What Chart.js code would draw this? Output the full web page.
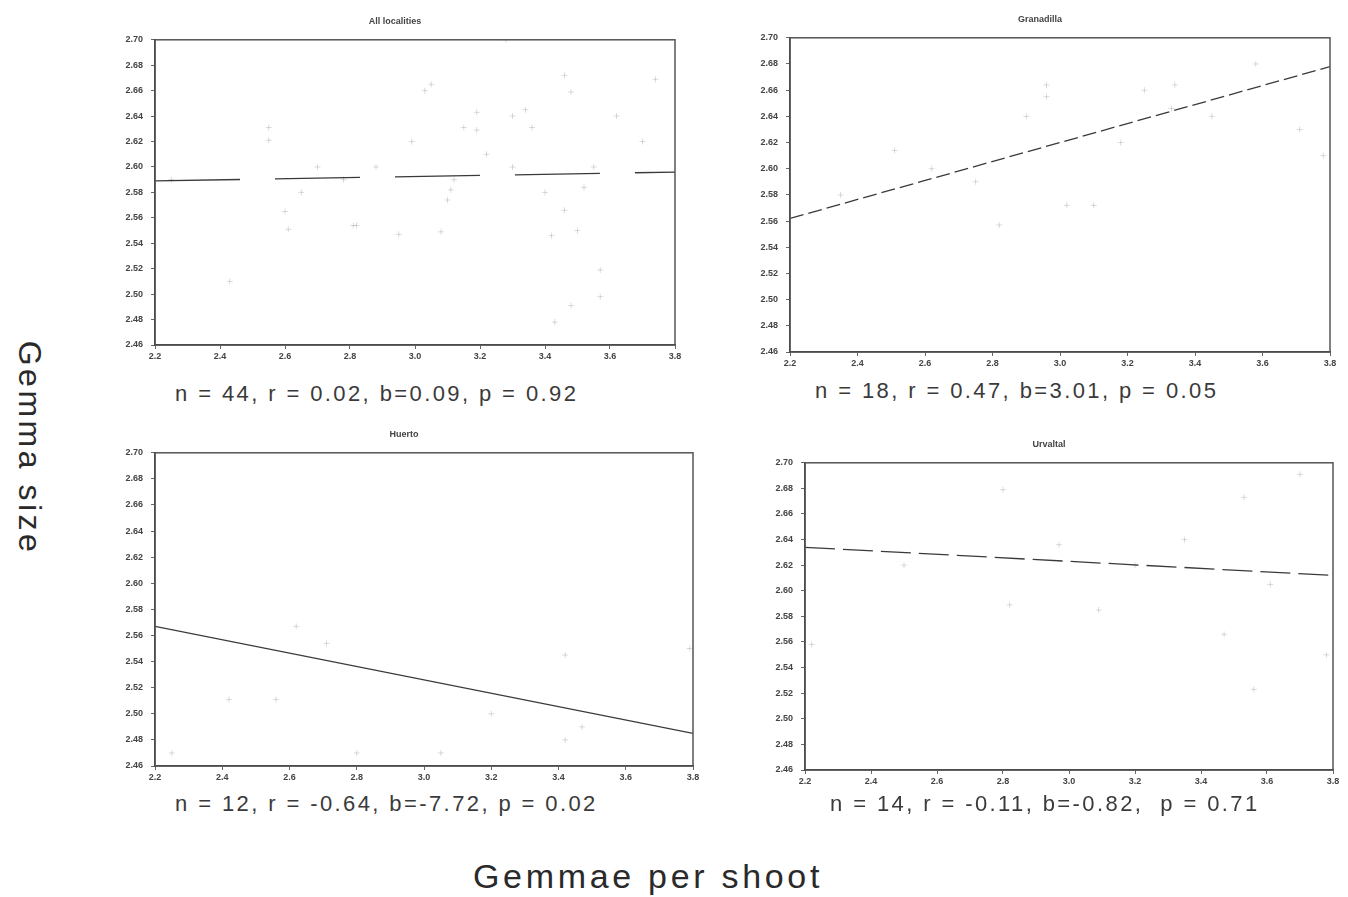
<!DOCTYPE html>
<html>
<head>
<meta charset="utf-8">
<script src="https://cdn.jsdelivr.net/npm/chart.js@4.4.1/dist/chart.umd.min.js"></script>
<style>
  body { margin: 0; background: #fff; width: 1348px; height: 897px; position: relative; overflow: hidden;
         font-family: "Liberation Sans", Arial, sans-serif; }
  canvas { position: absolute; }
  .stat { position: absolute; font-size: 22px; letter-spacing: 2.4px; color: #3a3a3a; white-space: nowrap; line-height: 1; }
  .axis { position: absolute; color: #2a2a2a; white-space: nowrap; line-height: 1; transform: translate(-50%, -50%); }
</style>
</head>
<body>
<canvas id="allChart" width="600" height="362" style="left:100px;top:8px"></canvas>
<canvas id="granChart" width="613" height="370" style="left:735px;top:6px"></canvas>
<canvas id="hueChart" width="620" height="370" style="left:100px;top:421px"></canvas>
<canvas id="urvChart" width="598" height="364" style="left:750px;top:431px"></canvas>

<div class="stat" style="left:175px;top:383px">n = 44, r = 0.02, b=0.09, p = 0.92</div>
<div class="stat" style="left:815px;top:380px">n = 18, r = 0.47, b=3.01, p = 0.05</div>
<div class="stat" style="left:175px;top:793px">n = 12, r = -0.64, b=-7.72, p = 0.02</div>
<div class="stat" style="left:830px;top:793px">n = 14, r = -0.11, b=-0.82,&nbsp; p = 0.71</div>

<div class="axis" style="left:30px;top:448px;font-size:32px;letter-spacing:3.5px;transform:translate(-50%,-50%) rotate(90deg)">Gemma size</div>
<div class="axis" style="left:648px;top:876px;font-size:34px;letter-spacing:3.7px">Gemmae per shoot</div>

<script>
// shared axes
const xRange = [2.2, 3.8];
const yRange = [2.46, 2.70];
const xStep = 0.2;
const yStep = 0.02;

// All localities
const xAll = [2.25, 2.43, 2.55, 2.55, 2.60, 2.61, 2.65, 2.70, 2.78, 2.81, 2.82, 2.88, 2.95, 2.99, 3.03,
  3.05, 3.08, 3.10, 3.11, 3.12, 3.15, 3.19, 3.19, 3.22, 3.28, 3.30, 3.34, 3.36, 3.40, 3.42,
  3.43, 3.46, 3.46, 3.48, 3.48, 3.50, 3.52, 3.55, 3.57, 3.57, 3.62, 3.70, 3.74, 3.30];
const yAll = [2.59, 2.51, 2.631, 2.621, 2.565, 2.551, 2.58, 2.60, 2.59, 2.554, 2.554, 2.60, 2.547, 2.62, 2.66,
  2.665, 2.549, 2.574, 2.582, 2.59, 2.631, 2.643, 2.629, 2.61, 2.70, 2.60, 2.645, 2.631, 2.58, 2.546,
  2.478, 2.672, 2.566, 2.659, 2.491, 2.55, 2.584, 2.60, 2.519, 2.498, 2.64, 2.62, 2.669, 2.64];
const fitAll = [2.589, 2.596];

// Granadilla
const xGran = [2.35, 2.51, 2.62, 2.75, 2.82, 2.90, 2.96, 2.96, 3.02, 3.10, 3.18, 3.25, 3.33, 3.34, 3.45, 3.58, 3.71, 3.78];
const yGran = [2.58, 2.614, 2.60, 2.59, 2.557, 2.64, 2.664, 2.655, 2.572, 2.572, 2.62, 2.66, 2.646, 2.664, 2.64, 2.68, 2.63, 2.61];
const fitGran = [2.562, 2.678];

// Huerto
const xHue = [2.25, 2.42, 2.56, 2.62, 2.71, 2.80, 3.05, 3.20, 3.42, 3.42, 3.47, 3.79];
const yHue = [2.47, 2.511, 2.511, 2.567, 2.554, 2.47, 2.47, 2.50, 2.545, 2.48, 2.49, 2.55];
const fitHue = [2.567, 2.485];

// Urvaltal
const xUrv = [2.22, 2.50, 2.80, 2.82, 2.97, 3.09, 3.20, 3.35, 3.47, 3.53, 3.56, 3.61, 3.70, 3.78];
const yUrv = [2.558, 2.62, 2.679, 2.589, 2.636, 2.585, 2.62, 2.64, 2.566, 2.673, 2.523, 2.605, 2.691, 2.55];
const fitUrv = [2.634, 2.612];

// frame round the plot area
const boxPlugin = {
  id: 'box',
  afterDraw(chart) {
    const a = chart.chartArea, c = chart.ctx;
    c.save();
    c.strokeStyle = '#555';
    c.lineWidth = 1.5;
    c.strokeRect(a.left, a.top, a.right - a.left, a.bottom - a.top);
    c.restore();
  }
};

function makePanel(id, title, xs, ys, fit, dash, pad) {
  const ctx = document.getElementById(id).getContext('2d');
  return new Chart(ctx, {
    type: 'scatter',
    data: {
      datasets: [
        {
          data: xs.map((x, i) => ({ x: x, y: ys[i] })),
          pointStyle: 'cross',
          pointRadius: 3,
          borderColor: 'rgba(0,0,0,0.14)',
          borderWidth: 1
        },
        {
          type: 'line',
          data: [{ x: xRange[0], y: fit[0] }, { x: xRange[1], y: fit[1] }],
          borderColor: '#3a3a3a',
          borderWidth: 1.3,
          borderDash: dash,
          pointRadius: 0,
          fill: false
        }
      ]
    },
    options: {
      responsive: false,
      animation: false,
      devicePixelRatio: 1,
      layout: { padding: pad },
      scales: {
        x: {
          type: 'linear',
          min: xRange[0], max: xRange[1],
          ticks: { stepSize: xStep, color: '#444', font: { size: 9, weight: 'bold', family: 'Liberation Sans' }, padding: 2,
                   maxRotation: 0, callback: v => v.toFixed(1) },
          grid: { drawOnChartArea: false, tickLength: 4, color: '#666' },
          border: { color: '#333', width: 1.5 },
          afterFit: s => { s.height = 20; }
        },
        y: {
          min: yRange[0], max: yRange[1],
          ticks: { stepSize: yStep, color: '#444', font: { size: 9, weight: 'bold', family: 'Liberation Sans' }, padding: 8,
                   callback: v => v.toFixed(2) },
          grid: { drawOnChartArea: false, tickLength: 4, color: '#666' },
          border: { color: '#333', width: 1.5 },
          afterFit: s => { s.width = 40; }
        }
      },
      plugins: {
        legend: { display: false },
        tooltip: { enabled: false },
        title: {
          display: true,
          text: title,
          color: '#444',
          font: { size: 9, weight: 'bold', family: 'Liberation Sans' },
          padding: { top: 8, bottom: 13 }
        }
      }
    },
    plugins: [boxPlugin]
  });
}

const allChart = makePanel('allChart', 'All localities', xAll, yAll, fitAll, [85, 35], { left: 15, right: 25, bottom: 5 });
const granChart = makePanel('granChart', 'Granadilla', xGran, yGran, fitGran, [14, 5], { left: 15, right: 18, bottom: 4 });
const hueChart = makePanel('hueChart', 'Huerto', xHue, yHue, fitHue, [], { left: 15, right: 27, bottom: 5 });
const urvChart = makePanel('urvChart', 'Urvaltal', xUrv, yUrv, fitUrv, [30, 8], { left: 15, right: 15, bottom: 5 });
</script>
</body>
</html>
